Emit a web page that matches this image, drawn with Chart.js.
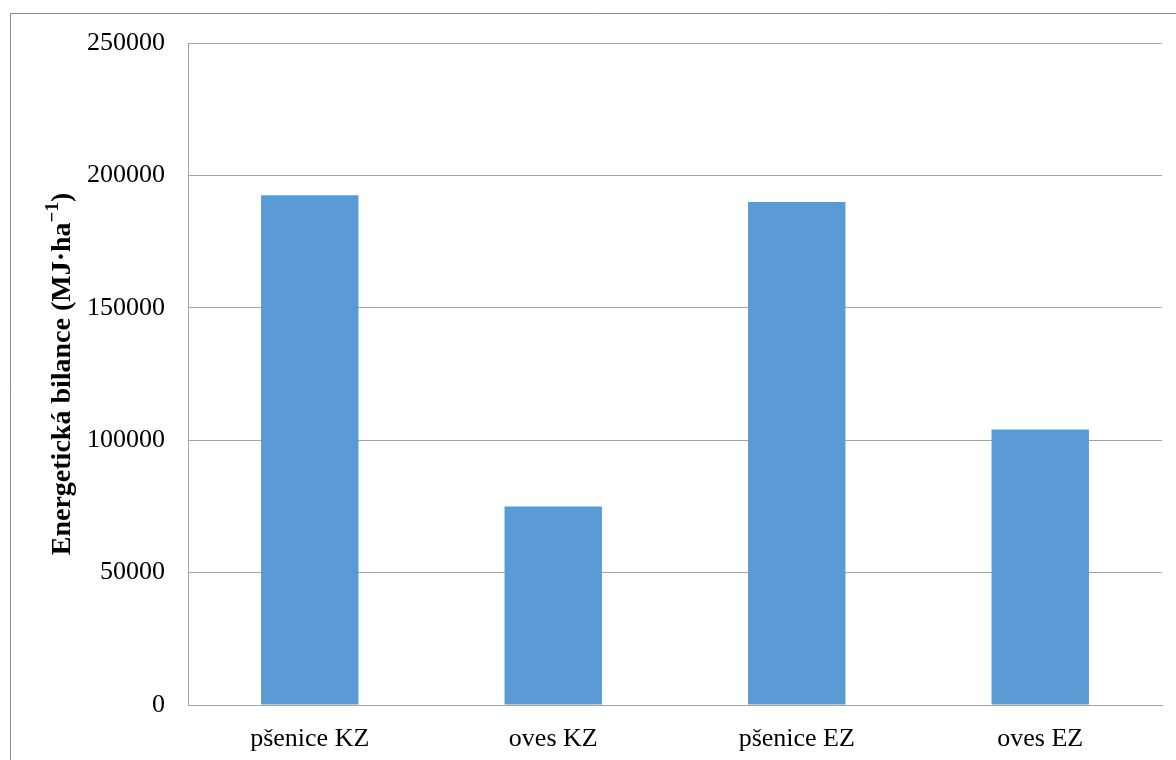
<!DOCTYPE html>
<html lang="cs">
<head>
<meta charset="utf-8">
<title>Energetická bilance</title>
<script src="https://cdn.jsdelivr.net/npm/chart.js@4.4.1/dist/chart.umd.min.js"></script>
<style>
  html, body { margin: 0; padding: 0; background: #fff; }
  #wrap { position: relative; width: 1176px; height: 760px; }
</style>
</head>
<body>
<div id="wrap"><canvas id="chart"></canvas></div>
<script>
// ─── DATA ─────────────────────────────────────────────────────────────────────
const categories = ['pšenice KZ', 'oves KZ', 'pšenice EZ', 'oves EZ'];
const energyBalance = [192500, 75000, 190000, 104000];
const yTicks = [0, 50000, 100000, 150000, 200000, 250000];
const titleMain = 'Energetická bilance (MJ·ha';
const titleSup = '−1';
const titleEnd = ')';

const SERIF = '"Liberation Serif", "Times New Roman", serif';
const GRID = '#a3a3a3';

// Outer frame of the chart object (left and top edges only are in view)
const framePlugin = {
  id: 'frame',
  beforeDraw(chart) {
    const { ctx, width, height } = chart;
    ctx.save();
    ctx.strokeStyle = '#8a8a8a';
    ctx.lineWidth = 1;
    ctx.beginPath();
    ctx.moveTo(10.5, height);
    ctx.lineTo(10.5, 13.5);
    ctx.lineTo(width, 13.5);
    ctx.stroke();
    ctx.restore();
  }
};

// Rotated y-axis title with a raised exponent
const yTitlePlugin = {
  id: 'yTitle',
  afterDraw(chart) {
    const { ctx, chartArea } = chart;
    const bigFont = 'bold 28px ' + SERIF;
    const supFont = 'bold 19px ' + SERIF;
    ctx.save();
    ctx.font = bigFont;
    const w1 = ctx.measureText(titleMain).width;
    const w3 = ctx.measureText(titleEnd).width;
    ctx.font = supFont;
    const w2 = ctx.measureText(titleSup).width;
    const total = w1 + w2 + w3;

    ctx.translate(63, (chartArea.top + chartArea.bottom) / 2);
    ctx.rotate(-Math.PI / 2);
    ctx.fillStyle = '#000';
    ctx.textAlign = 'left';
    ctx.textBaseline = 'middle';
    let x = -total / 2;
    ctx.font = bigFont;
    ctx.fillText(titleMain, x, 0);
    x += w1;
    ctx.font = supFont;
    ctx.fillText(titleSup, x, -10);
    x += w2;
    ctx.font = bigFont;
    ctx.fillText(titleEnd, x, 0);
    ctx.restore();
  }
};

new Chart(document.getElementById('chart'), {
  type: 'bar',
  data: {
    labels: categories,
    datasets: [{
      data: energyBalance,
      backgroundColor: '#5B9BD5',
      borderWidth: 0,
      barPercentage: 0.4,
      categoryPercentage: 1
    }]
  },
  options: {
    responsive: true,
    maintainAspectRatio: false,
    animation: false,
    layout: { padding: { top: 43, right: 14, bottom: 0, left: 20 } },
    plugins: {
      legend: { display: false },
      tooltip: { enabled: false }
    },
    scales: {
      x: {
        grid: { display: false, drawTicks: false },
        border: { display: true, color: GRID, width: 1 },
        ticks: {
          color: '#000',
          padding: 19,
          maxRotation: 0,
          font: { family: SERIF, size: 26 }
        },
        afterFit(scale) { scale.height = 55; }
      },
      y: {
        min: 0,
        max: 250000,
        grid: { color: GRID, lineWidth: 1, drawTicks: false },
        border: { display: true, color: GRID, width: 1 },
        afterBuildTicks(scale) {
          scale.ticks = yTicks.map(v => ({ value: v }));
        },
        ticks: {
          color: '#000',
          padding: 23,
          font: { family: SERIF, size: 26 },
          callback: v => String(v)
        },
        afterFit(scale) { scale.width = 188 - 20; }
      }
    }
  },
  plugins: [framePlugin, yTitlePlugin]
});
</script>
</body>
</html>
